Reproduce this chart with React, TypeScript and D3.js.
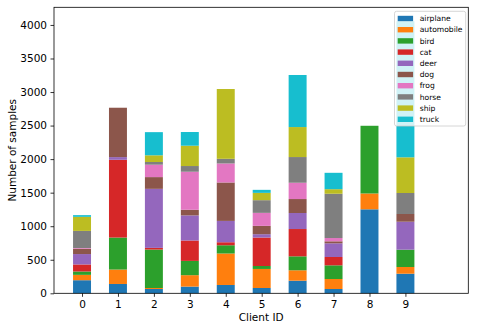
import React, { useRef, useEffect } from 'react'
import { select, scaleLinear, stack, axisLeft, axisBottom } from 'd3'

const clients = ['0', '1', '2', '3', '4', '5', '6', '7', '8', '9']
const classes = ['airplane', 'automobile', 'bird', 'cat', 'deer', 'dog', 'frog', 'horse', 'ship', 'truck']
const colors = ['#1f77b4', '#ff7f0e', '#2ca02c', '#d62728', '#9467bd', '#8c564b', '#e377c2', '#7f7f7f', '#bcbd22', '#17becf']

// samples per class, one array per client
const client0 = [195, 80, 50, 105, 155, 80, 10, 255, 210, 25]
const client1 = [139, 215, 477, 1159, 40, 736, 0, 0, 0, 0]
const client2 = [64, 15, 573, 25, 880, 175, 185, 40, 100, 345]
const client3 = [100, 170, 213, 304, 374, 84, 567, 85, 303, 204]
const client4 = [124, 469, 123, 45, 318, 573, 283, 70, 1040, 0]
const client5 = [79, 284, 44, 424, 50, 124, 194, 189, 109, 45]
const client6 = [188, 155, 208, 407, 239, 208, 243, 383, 447, 776]
const client7 = [64, 149, 204, 124, 204, 30, 49, 660, 68, 244]
const client8 = [1252, 236, 1009, 0, 0, 0, 0, 0, 0, 0]
const client9 = [292, 100, 258, 0, 417, 115, 0, 313, 532, 2028]
const counts = [client0, client1, client2, client3, client4, client5, client6, client7, client8, client9]

const yTicks = [0, 500, 1000, 1500, 2000, 2500, 3000, 3500, 4000]

function App() {
  const ref = useRef(null)
  const width = 478, height = 331
  const margin = { top: 7.3, right: 9.7, bottom: 37.7, left: 54 }

  useEffect(() => {
    const svg = select(ref.current)
    svg.selectAll('*').remove()

    const x = scaleLinear().domain([-0.78, 10.75]).range([margin.left, width - margin.right])
    const y = scaleLinear().domain([0, 4263]).range([height - margin.bottom, margin.top])

    const rows = counts.map((c, i) => {
      const r: any = { client: i }
      classes.forEach((k, j) => { r[k] = c[j] })
      return r
    })
    const series = stack().keys(classes)(rows)

    const bw = x(0.5) - x(0)
    series.forEach((s, j) => {
      svg.append('g')
        .selectAll('rect')
        .data(s)
        .join('rect')
        .attr('x', (d: any) => x(d.data.client) - bw / 2)
        .attr('width', bw)
        .attr('y', (d: any) => y(d[1]))
        .attr('height', (d: any) => Math.max(0, y(d[0]) - y(d[1])))
        .attr('fill', colors[j])
    })

    const font = 'DejaVu Sans, sans-serif'

    const gy = svg.append('g')
      .attr('transform', `translate(${margin.left},0)`)
      .call(axisLeft(y).tickValues(yTicks).tickFormat((d: any) => String(d)).tickSize(3.5).tickPadding(3.5))
    gy.select('.domain').remove()
    gy.selectAll('text').attr('font-size', 10.5).attr('font-family', font).attr('fill', '#000')
    gy.selectAll('line').attr('stroke', '#000').attr('stroke-width', 0.8)

    const gx = svg.append('g')
      .attr('transform', `translate(0,${height - margin.bottom})`)
      .call(axisBottom(x).tickValues(clients.map(Number)).tickFormat((d: any) => String(d)).tickSize(3.5).tickPadding(3.5))
    gx.select('.domain').remove()
    gx.selectAll('text').attr('font-size', 10.5).attr('font-family', font).attr('fill', '#000')
    gx.selectAll('line').attr('stroke', '#000').attr('stroke-width', 0.8)

    // spines
    svg.append('rect')
      .attr('x', margin.left).attr('y', margin.top)
      .attr('width', width - margin.left - margin.right)
      .attr('height', height - margin.top - margin.bottom)
      .attr('fill', 'none').attr('stroke', '#000').attr('stroke-width', 0.8)

    svg.append('text')
      .attr('x', (margin.left + width - margin.right) / 2)
      .attr('y', 321)
      .attr('text-anchor', 'middle')
      .attr('font-family', font).attr('font-size', 10.5)
      .text('Client ID')

    svg.append('text')
      .attr('transform', `translate(16,${(margin.top + height - margin.bottom) / 2}) rotate(-90)`)
      .attr('text-anchor', 'middle')
      .attr('font-family', font).attr('font-size', 10.5)
      .text('Number of samples')

    // legend
    const lg = svg.append('g')
    lg.append('rect')
      .attr('x', 394.5).attr('y', 11.3)
      .attr('width', 71.2).attr('height', 114.7)
      .attr('rx', 2)
      .attr('fill', 'white').attr('fill-opacity', 0.8)
      .attr('stroke', '#ccc').attr('stroke-width', 0.8)
    classes.forEach((k, j) => {
      const cy = 18.5 + j * 11.2
      lg.append('rect')
        .attr('x', 397.7).attr('y', cy - 2.7)
        .attr('width', 15.4).attr('height', 5.4)
        .attr('fill', colors[j])
      lg.append('text')
        .attr('x', 419.7).attr('y', cy)
        .attr('dy', '0.35em')
        .attr('font-family', font).attr('font-size', 7.6)
        .text(k)
    })
  }, [])

  return (
    <svg ref={ref} width={width} height={height} viewBox={`0 0 ${width} ${height}`}
      style={{ position: 'absolute', left: 0, top: 0, background: 'white' }} />
  )
}

export default App
